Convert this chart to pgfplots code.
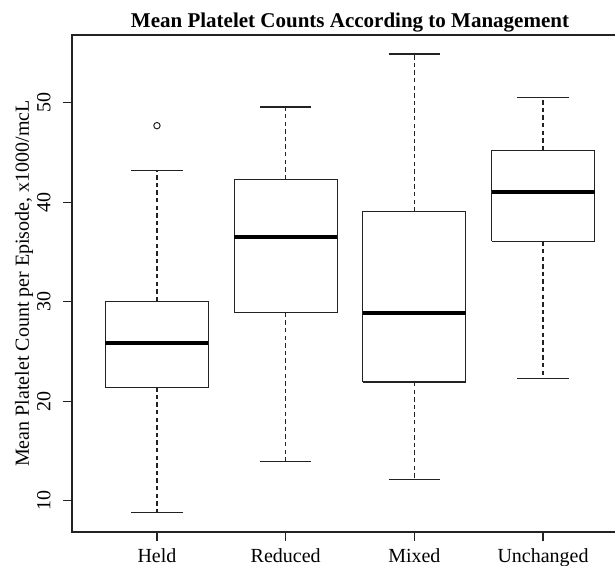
\documentclass[border=0pt]{standalone}
\usepackage{pgfplots}
\pgfplotsset{compat=1.18}
\usepackage{fontspec}
\setmainfont{Liberation Serif}
\definecolor{linecol}{HTML}{222222}
\pgfplotsset{
  boxline/.style={linecol, line width=0.6pt, mark=none, line join=miter},
  whisk/.style={linecol, line width=0.6pt, mark=none, dash pattern=on 2.2pt off 1.6pt},
  med/.style={black, line width=1.9pt, mark=none},
}
\begin{document}
\begin{tikzpicture}
\begin{axis}[
  name=ax,
  at={(0,0)}, anchor=south west,
  scale only axis,
  width=278pt, height=248.5pt,
  xmin=0.34, xmax=4.66, ymin=6.855, ymax=56.80,
  axis line style={linecol, line width=0.6pt},
  xtick={1,2,3,4},
  xticklabels={Held,Reduced,Mixed,Unchanged},
  ytick={10,20,30,40,50},
  xtick pos=left, ytick pos=left,
  tick align=outside,
  major tick length=4.5pt,
  every tick/.style={linecol, line width=0.6pt},
  /pgf/number format/assume math mode=true,
  xticklabel style={font=\fontsize{10}{12}\selectfont, anchor=base, inner sep=0pt, yshift=-10.8pt},
  yticklabel style={font=\fontsize{10}{12}\selectfont, xshift=-6pt, rotate=90, anchor=south, inner sep=0pt},
  clip=false,
]
% Held
\addplot[whisk] coordinates {(1,30.04) (1,43.17)};
\addplot[whisk] coordinates {(1,21.40) (1,8.83)};
\addplot[boxline] coordinates {(0.8,43.17) (1.2,43.17)};
\addplot[boxline] coordinates {(0.8,8.83) (1.2,8.83)};
\addplot[boxline] coordinates {(0.6,21.40) (1.4,21.40) (1.4,30.04) (0.6,30.04) (0.6,21.40)};
\addplot[med] coordinates {(0.6,25.85) (1.4,25.85)};
\addplot[only marks, mark=o, mark size=1.6pt, mark options={linecol, line width=0.5pt}] coordinates {(1,47.69)};
% Reduced
\addplot[whisk] coordinates {(2,42.30) (2,49.57)};
\addplot[whisk] coordinates {(2,28.89) (2,13.92)};
\addplot[boxline] coordinates {(1.8,49.57) (2.2,49.57)};
\addplot[boxline] coordinates {(1.8,13.92) (2.2,13.92)};
\addplot[boxline] coordinates {(1.6,28.89) (2.4,28.89) (2.4,42.30) (1.6,42.30) (1.6,28.89)};
\addplot[med] coordinates {(1.6,36.47) (2.4,36.47)};
% Mixed
\addplot[whisk] coordinates {(3,39.05) (3,54.89)};
\addplot[whisk] coordinates {(3,21.93) (3,12.15)};
\addplot[boxline] coordinates {(2.8,54.89) (3.2,54.89)};
\addplot[boxline] coordinates {(2.8,12.15) (3.2,12.15)};
\addplot[boxline] coordinates {(2.6,21.93) (3.4,21.93) (3.4,39.05) (2.6,39.05) (2.6,21.93)};
\addplot[med] coordinates {(2.6,28.83) (3.4,28.83)};
% Unchanged
\addplot[whisk] coordinates {(4,45.22) (4,50.54)};
\addplot[whisk] coordinates {(4,36.05) (4,22.30)};
\addplot[boxline] coordinates {(3.8,50.54) (4.2,50.54)};
\addplot[boxline] coordinates {(3.8,22.30) (4.2,22.30)};
\addplot[boxline] coordinates {(3.6,36.05) (4.4,36.05) (4.4,45.22) (3.6,45.22) (3.6,36.05)};
\addplot[med] coordinates {(3.6,41.06) (4.4,41.06)};
\end{axis}
\node[anchor=base, font=\bfseries\fontsize{10.5}{12.5}\selectfont] at (139pt,252pt) {Mean Platelet Counts According to Management};
\node[anchor=base, rotate=90, inner sep=0pt, font=\fontsize{10}{12}\selectfont] at (-21.5pt,124.25pt) {Mean Platelet Count per Episode, x1000/mcL};
\pgfresetboundingbox
\path[use as bounding box] (-36pt,-17pt) rectangle (271.5pt,266pt);
\end{tikzpicture}
\end{document}
